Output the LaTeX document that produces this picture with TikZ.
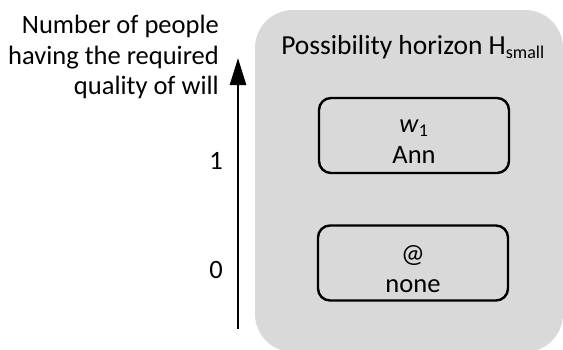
\documentclass[tikz,border=0pt]{standalone}
\usepackage{fontspec}
\setmainfont{Carlito}
\usetikzlibrary{arrows.meta}
\newcommand{\lblsize}{\fontsize{26.5}{30.5}\selectfont}
\newcommand{\titlesize}{\fontsize{27.5}{30.5}\selectfont}
\newcommand{\subsize}{\fontsize{18}{18}\selectfont}
\begin{document}
\begin{tikzpicture}[x=1pt,y=-1pt,
  lbl/.style={font=\lblsize, inner sep=0pt},
  world/.style={draw=black, line width=2.4pt, rounded corners=12pt, minimum width=190pt, minimum height=75pt, inner sep=0pt,
    label={[align=center, font=\lblsize, inner sep=0pt, yshift=-6pt]center:#1}},
  horizon/.style={fill=horizongray, rounded corners=38pt}]
\definecolor{horizongray}{HTML}{D9D9D9}
\useasboundingbox (0,0) rectangle (563,349);
% possibility horizon background
\fill[horizon] (255,10) rectangle (563,352);
\node[lbl, font=\titlesize, anchor=center] (title) at (413,47) {Possibility horizon H\textsubscript{\subsize small}};
% worlds
\node[world={\textit{w}\textsubscript{\subsize 1}\\Ann}] (w1) at (414,135.5) {};
\node[world={@\\none}] (w0) at (413,263) {};
% axis
\coordinate (axbot) at (238,329);
\coordinate (axtop) at (238,58);
\draw[line width=2.6pt, -{Triangle[length=27pt,width=16pt]}] (axbot) -- (axtop);
\node[lbl, align=right, anchor=east] (axlabel) at (219,57) {Number of people\\having the required\\quality of will};
\node[lbl] (one) at (216,161) {1};
\node[lbl] (zero) at (216,270) {0};
\end{tikzpicture}
\end{document}
